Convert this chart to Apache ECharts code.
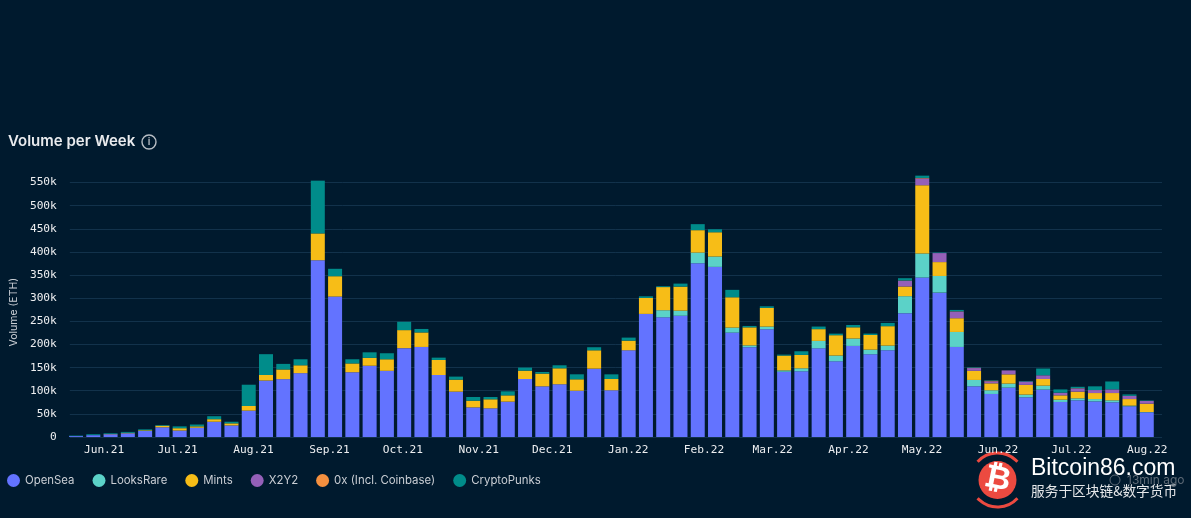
<!DOCTYPE html>
<html>
<head>
<meta charset="utf-8">
<style>
html,body{margin:0;padding:0;background:#001a2e;}
#chart{width:1191px;height:518px;}
</style>
<script src="https://cdn.jsdelivr.net/npm/echarts@6/dist/echarts.min.js"></script>
</head>
<body>
<div id="chart"></div>
<script>
// weeks, all values in thousands of ETH
var weeks = ['2021-05-24','2021-05-31','2021-06-07','2021-06-14','2021-06-21','2021-06-28','2021-07-05','2021-07-12','2021-07-19','2021-07-26',
  '2021-08-02','2021-08-09','2021-08-16','2021-08-23','2021-08-30','2021-09-06','2021-09-13','2021-09-20','2021-09-27','2021-10-04',
  '2021-10-11','2021-10-18','2021-10-25','2021-11-01','2021-11-08','2021-11-15','2021-11-22','2021-11-29','2021-12-06','2021-12-13',
  '2021-12-20','2021-12-27','2022-01-03','2022-01-10','2022-01-17','2022-01-24','2022-01-31','2022-02-07','2022-02-14','2022-02-21',
  '2022-02-28','2022-03-07','2022-03-14','2022-03-21','2022-03-28','2022-04-04','2022-04-11','2022-04-18','2022-04-25','2022-05-02',
  '2022-05-09','2022-05-16','2022-05-23','2022-05-30','2022-06-06','2022-06-13','2022-06-20','2022-06-27','2022-07-04','2022-07-11',
  '2022-07-18','2022-07-25','2022-08-01'];
var openSea = [2,4,6,8,13,21,14,20,33,25,57,122,125,138,382,303.5,140,154,143,192,194.6,134,98,64,62,76.4,125.4,109.5,114,100,147.7,101,187.4,266,258.7,262,375.5,367.6,225.6,194,232.8,141,142,191.7,163.6,196.8,178.8,187.5,267.5,344.6,312,194.6,109.6,93,106.7,85.8,102.4,75.7,79.3,77,75,66.3,53.3];
var looksRare = [0,0,0,0,0,0,0,0,0,0,0,0,0,0,0,0,0,0,0,0,0,0,0,0,0,0,0,0,0,0,0,0,0,0,15.3,11,23,22.4,10.8,4,5.8,3,6.5,16,12.4,16,10,10,36.8,52,36,32.4,13.7,8,8.7,5.8,8.6,5,4.3,5,4.3,1.5,0.7];
var mints = [0,0,0.5,1,1.5,3.5,5,3,5.5,4.5,10,12,21,17,58,44,19,17,25,39,31.4,32.5,26,14.5,19.5,13.6,18,27.5,34.5,24.7,39.7,24.4,20.9,34.5,50,52,48.5,52.5,65.6,39,40.4,32,28.8,25.4,44,24.3,31.7,42,21,147.5,30,29.7,19.7,15,20,21,14.4,9.3,14.4,13,15.7,14.2,18];
var x2y2 = [0,0,0,0,0,0,0,0,0,0,0,0,0,0,0,0,0,0,0,0,0,0,0,0,0,0,0,0,0,0,0,0,0,0,0,0,0,0,0,0,0,0,0,0,0,0,0,0,12.4,14.7,19.5,14.4,6,4.5,8.5,7.5,8,5.8,7,6.5,8,7,6];
var zeroX = [0,0,0,0,0,0,0,0,0,0,0,0,0,0,0,0,0,0,0,0,0,0,0,0,0,0,0,0,0,0,0,0,0,0,0,0,0,0,0,0,0,0,0,0,0,0,0,0,0.5,1,0,0.5,0.5,1,0,0,0,0,0.5,0,0,0,0];
var punks = [1,2,1.5,2,2,1.5,4,4,6.5,3.5,46,45,12,13,114,16,9,12,13,18,7.5,5,6.5,8,5,8.7,6.6,3.5,6.5,10.8,6.6,10,6.5,3.6,1.8,6.5,13,6.5,16,3,3.5,2,8,5.6,3.4,5,3,7,5,5,1,3,1,1,0,1,14.6,7,3,8,17,3,1];

var seriesNames = ['OpenSea','LooksRare','Mints','X2Y2','0x (Incl. Coinbase)','CryptoPunks'];
var seriesColors = ['#6373ff','#5bd2c8','#f7bd17','#9460b8','#f5903f','#008c8a'];
var seriesValues = [openSea,looksRare,mints,x2y2,zeroX,punks];

var tickDates = ['2021-06-01','2021-07-01','2021-08-01','2021-09-01','2021-10-01','2021-11-01','2021-12-01','2022-01-01','2022-02-01','2022-03-01','2022-04-01','2022-05-01','2022-06-01','2022-07-01','2022-08-01'];
var tickLabels = ['Jun.21','Jul.21','Aug.21','Sep.21','Oct.21','Nov.21','Dec.21','Jan.22','Feb.22','Mar.22','Apr.22','May.22','Jun.22','Jul.22','Aug.22'];

// one category per day for the label axis, month labels sit on their real date
var days = [];
for(var t=Date.UTC(2021,4,18);t<=Date.UTC(2022,7,7);t+=86400000){
	days.push(new Date(t).toISOString().slice(0,10));
}

var series = [];
for(var i=0;i<seriesNames.length;i++){
	series.push({
		name: seriesNames[i],
		type: 'bar',
		stack: 'total',
		barWidth: 14,
		clip: false,
		xAxisIndex: 1,
		yAxisIndex: 1,
		itemStyle: {color: seriesColors[i]},
		data: seriesValues[i]
	});
}

var sans = 'Inter, "Noto Sans", sans-serif';
var mono = '"DejaVu Sans Mono", monospace';

var myChart = echarts.init(document.getElementById('chart'));
myChart.setOption({
	animation: false,
	backgroundColor: '#001a2e',
	// first grid holds gridlines and labels, second one is inset a bit and holds the bars
	grid: [
		{left:62, width:1100, top:182.5, height:254.5},
		{left:67.4, width:1088, top:182.5, height:254.5}
	],
	legend: {
		left: 2, top: 469, icon: 'circle', itemWidth: 13, itemHeight: 13, itemGap: 18,
		textStyle: {color:'#c9ced4', fontFamily:sans, fontSize:11.4},
		data: seriesNames
	},
	xAxis: [{
		gridIndex: 0,
		type: 'category',
		data: days,
		boundaryGap: false,
		axisLine: {show:false},
		axisTick: {show:false},
		splitLine: {show:false},
		axisLabel: {
			color: '#eceef0', fontFamily: mono, fontSize: 11.2, margin: 8,
			interval: function(idx, v){ return tickDates.indexOf(v) >= 0; },
			formatter: function(v){ return tickLabels[tickDates.indexOf(v)]; }
		}
	},{
		gridIndex: 1,
		type: 'category',
		data: weeks,
		show: false
	}],
	yAxis: [{
		gridIndex: 0,
		type: 'value', min: 0, max: 550, interval: 50,
		name: 'Volume (ETH)', nameLocation: 'middle', nameGap: 43, nameRotate: 90,
		nameTextStyle: {color:'#c9ced4', fontFamily:sans, fontSize:10.5, padding:[0,5,0,0]},
		axisLine: {show:false},
		axisTick: {show:false},
		splitLine: {lineStyle:{color:'#12324b', width:1}},
		axisLabel: {
			color: '#eceef0', fontFamily: mono, fontSize: 11.2, margin: 13,
			formatter: function(v){ return v===0 ? '0' : v+'k'; }
		}
	},{
		gridIndex: 1,
		type: 'value', min: 0, max: 550, interval: 50,
		show: false
	}],
	series: series,
	graphic: [
		{type:'text', left:8, top:134, style:{text:'Volume per Week', fill:'#e9ebee', font:'600 15px '+sans}},
		{type:'circle', shape:{cx:149,cy:142,r:7}, style:{fill:'none', stroke:'#b8bec5', lineWidth:1.4}},
		{type:'text', x:149, y:142, style:{text:'i', fill:'#b8bec5', font:'600 10px '+sans, align:'center', verticalAlign:'middle'}},
		// watermark
		{type:'circle', shape:{cx:997.5,cy:480,r:19}, style:{fill:'#ec4a40'}},
		{type:'text', x:997.5, y:480, rotation:-0.2, style:{text:'₿', fill:'#ffffff', font:'700 32px "DejaVu Sans", sans-serif', align:'center', verticalAlign:'middle'}},
		{type:'arc', shape:{cx:997.5,cy:480,r:27,startAngle:-2.4,endAngle:-0.74}, style:{fill:'none', stroke:'#ec4a40', lineWidth:3}},
		{type:'arc', shape:{cx:997.5,cy:480,r:27,startAngle:0.74,endAngle:2.4}, style:{fill:'none', stroke:'#ec4a40', lineWidth:3}},
		{type:'text', left:1031, top:457, style:{text:'Bitcoin86.com', fill:'#ffffff', font:'23px "Liberation Sans", sans-serif'}},
		{type:'text', left:1031, top:484, style:{text:'服务于区块链&数字货币', fill:'#e6e8ea', font:'13.7px "Noto Sans CJK SC", sans-serif'}},
		{type:'circle', shape:{cx:1115,cy:480,r:5}, style:{fill:'none', stroke:'#5d6a76', lineWidth:1}},
		{type:'text', left:1127, top:474, style:{text:'13min ago', fill:'#5d6a76', font:'12px '+sans}}
	]
});
</script>
</body>
</html>
